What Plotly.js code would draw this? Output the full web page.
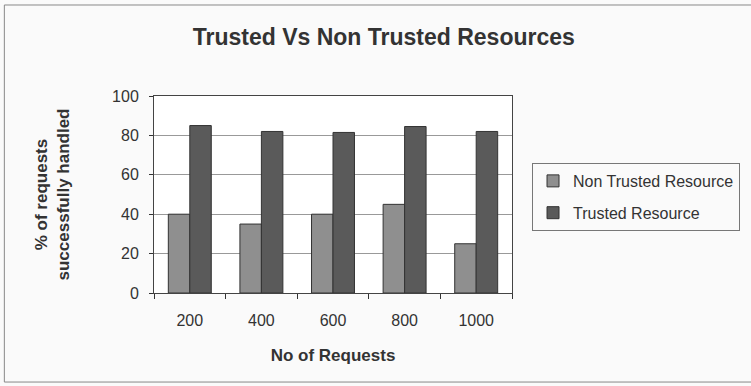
<!DOCTYPE html>
<html>
<head>
<meta charset="utf-8">
<script src="https://cdn.plot.ly/plotly-3.0.1.min.js"></script>
<style>html,body{margin:0;padding:0;background:#fafafa;}#chart{width:751px;height:386px;}</style>
</head>
<body>
<div id="chart"></div>
<script>
var categories = ["200", "400", "600", "800", "1000"];
var nonTrusted = [40, 35, 40, 45, 25];
var trusted = [85, 82, 81.5, 84.5, 82];
var seriesNames = ["Non Trusted Resource", "Trusted Resource"];
var yTicks = [0, 20, 40, 60, 80, 100];

var font = "Liberation Sans, Arial, sans-serif";
var traces = [
  {type: "bar", x: categories, y: nonTrusted, name: seriesNames[0], legendgroup: "a",
   marker: {color: "#8f8f8f", line: {color: "#333", width: 1}}},
  {type: "bar", x: categories, y: trusted, name: seriesNames[1], legendgroup: "b",
   marker: {color: "#5a5a5a", line: {color: "#333", width: 1}}}
];
var layout = {
  width: 751, height: 386,
  paper_bgcolor: "#fafafa", plot_bgcolor: "#ffffff",
  margin: {l: 154, r: 238, t: 96, b: 93},
  font: {family: font, color: "#333"},
  title: {text: "<b>Trusted Vs Non Trusted Resources</b>", font: {size: 23, color: "#333"},
          x: 0.511, xanchor: "center", y: 0.905, yanchor: "middle"},
  barmode: "group", bargap: 0.4, bargroupgap: 0,
  xaxis: {type: "category", tickson: "boundaries", ticks: "outside", ticklen: 5, tickcolor: "#333",
          showline: true, linecolor: "#444", mirror: true, showgrid: false,
          ticklabelstandoff: 13,
          tickfont: {size: 16, color: "#333"},
          title: {text: "<b>No of Requests</b>", font: {size: 17, color: "#333"}, standoff: 20}},
  yaxis: {range: [0, 100], tickvals: yTicks, ticks: "outside", ticklen: 4, tickcolor: "#333",
          showline: true, linecolor: "#444", mirror: true,
          showgrid: true, gridcolor: "#999", gridwidth: 1, zeroline: false,
          ticklabelstandoff: 7,
          tickfont: {size: 16, color: "#333"},
          title: {text: "<b>% of requests<br>successfully handled</b>", font: {size: 17, color: "#333"}, standoff: 38}},
  legend: {x: 1.053, xanchor: "left", y: 0.66, yanchor: "top", itemwidth: 30,
           tracegroupgap: 8,
           bordercolor: "#777", borderwidth: 1, bgcolor: "#fafafa",
           font: {size: 16, color: "#333"}},
  shapes: [{type: "rect", xref: "paper", yref: "paper",
            x0: -0.418, x1: 1.7, y0: -0.452, y1: 1.462,
            line: {color: "#888", width: 1}, layer: "below"}]
};
Plotly.newPlot("chart", traces, layout, {displayModeBar: false, staticPlot: true});
</script>
</body>
</html>
